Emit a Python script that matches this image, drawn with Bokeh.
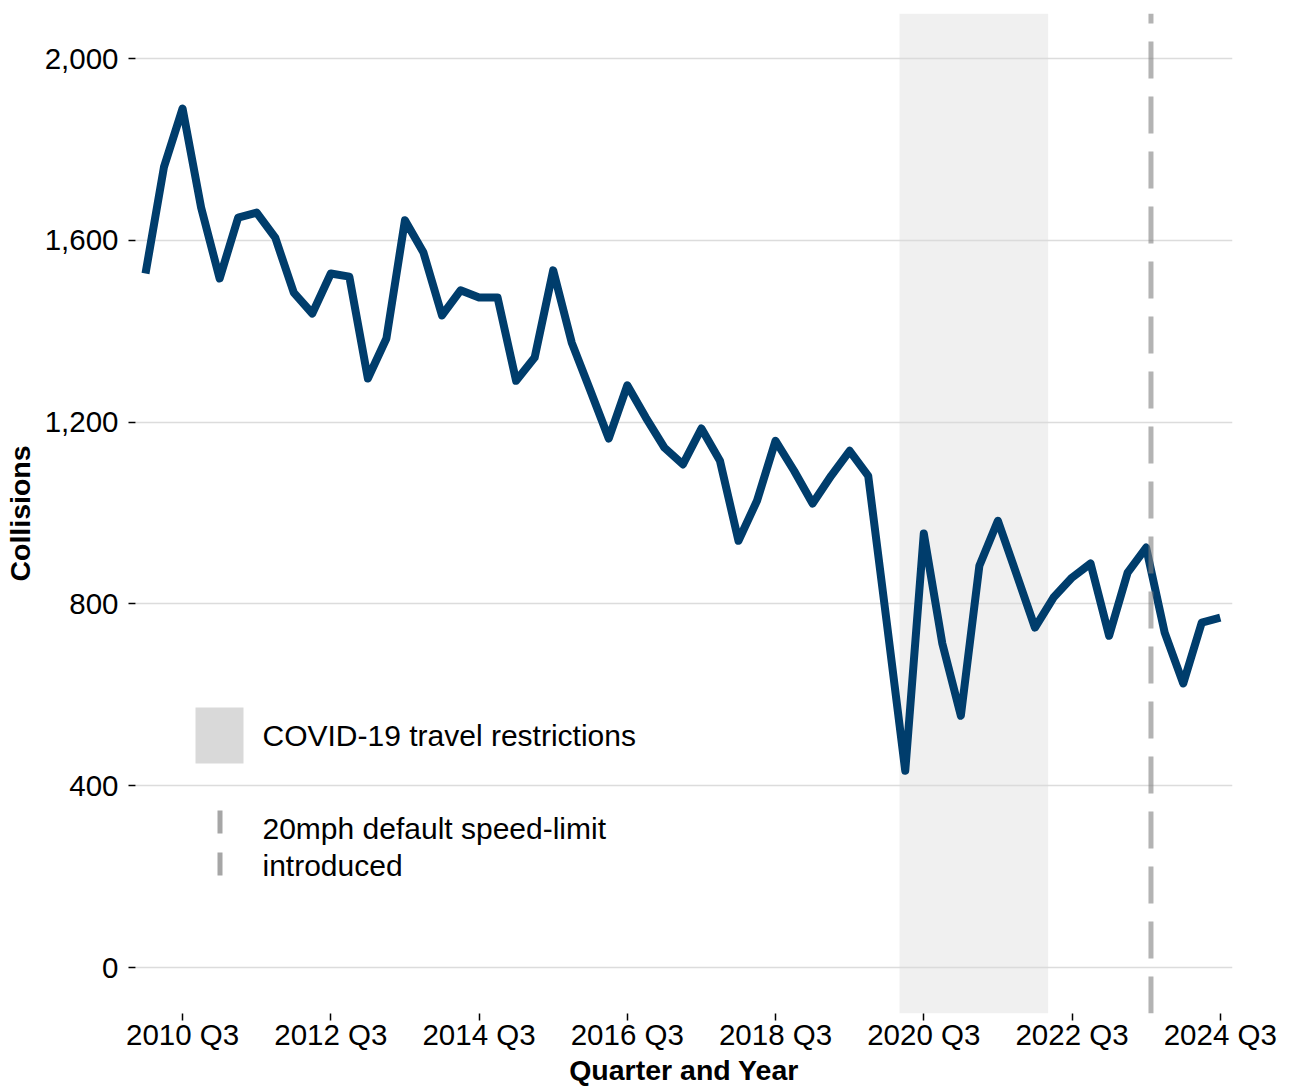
from bokeh.plotting import figure
from bokeh.models import Range1d, FixedTicker, NumeralTickFormatter, BoxAnnotation, Label
from bokeh.embed import file_html
from bokeh.resources import INLINE

# ---------------- data ----------------
years = list(range(2010, 2025))
quarters = [f"{y} Q{q}" for y in years for q in (1, 2, 3, 4)][:59]   # 2010 Q1 .. 2024 Q3

collisions = [
    1527, 1762, 1890, 1672, 1516, 1650, 1661, 1606, 1485, 1439,
    1527, 1520, 1296, 1384, 1644, 1573, 1435, 1490, 1474, 1474,
    1291, 1342, 1534, 1375, 1270, 1164, 1281, 1210, 1144, 1107,
    1186, 1115, 939, 1027, 1159, 1093, 1021, 1082, 1137, 1082,
    760, 433, 955, 713, 554, 884, 983, 866, 748, 814,
    858, 889, 730, 869, 924, 737, 625, 759, 770,
]

tick_quarters = ["2010 Q3", "2012 Q3", "2014 Q3", "2016 Q3",
                 "2018 Q3", "2020 Q3", "2022 Q3", "2024 Q3"]
y_ticks = [0, 400, 800, 1200, 1600, 2000]

# annotation positions on the quarter axis (quarter index units)
covid_start = 40.69
covid_end = 48.71
speed_limit_change = 54.26

covid_label = "COVID-19 travel restrictions"
speed_label_1 = "20mph default speed-limit"
speed_label_2 = "introduced"

x = list(range(len(quarters)))

# ---------------- figure ----------------
FONT = "Liberation Sans"

p = figure(
    frame_width=1097, frame_height=1000,
    x_range=Range1d(-0.54, 58.66), y_range=Range1d(-101, 2099),
    output_backend="svg", toolbar_location=None,
    min_border_left=135, min_border_right=53, min_border_top=13, min_border_bottom=65,
    background_fill_color="white", border_fill_color="white",
)
p.outline_line_color = None

# COVID shading
p.add_layout(BoxAnnotation(left=covid_start, right=covid_end,
                           fill_color="#d9d9d9", fill_alpha=0.4,
                           line_color=None, level="underlay"))

# main series
p.line(x, collisions, line_color="#003d6c", line_width=8,
       line_join="round", line_cap="butt")

# 20mph introduction dashed line (bottom -> top)
p.segment(x0=[speed_limit_change], y0=[p.y_range.start],
          x1=[speed_limit_change], y1=[p.y_range.end],
          line_color="#808080", line_alpha=0.6, line_width=5,
          line_dash="37 18")

# axes
tick_pos = [quarters.index(t) for t in tick_quarters]
p.xaxis.ticker = FixedTicker(ticks=tick_pos)
p.xaxis.major_label_overrides = {pos: lab for pos, lab in zip(tick_pos, tick_quarters)}
p.yaxis.ticker = FixedTicker(ticks=y_ticks)
p.yaxis.formatter = NumeralTickFormatter(format="0,0")

p.xaxis.axis_label = "Quarter and Year"
p.yaxis.axis_label = "Collisions"

for ax in (p.xaxis, p.yaxis):
    ax.axis_line_color = None
    ax.major_tick_in = 0
    ax.major_tick_out = 7
    ax.major_tick_line_color = "black"
    ax.major_tick_line_width = 1.5
    ax.minor_tick_line_color = None
    ax.major_label_text_font = FONT
    ax.major_label_text_font_size = "29.5px"
    ax.major_label_text_color = "black"
    ax.axis_label_text_font = FONT
    ax.axis_label_text_font_size = "28.5px"
    ax.axis_label_text_font_style = "bold"
    ax.axis_label_text_color = "black"

p.xaxis.major_label_standoff = -3
p.xaxis.axis_label_standoff = 0
p.yaxis.major_label_standoff = 10
p.yaxis.axis_label_standoff = 6

p.xgrid.visible = False
p.ygrid.grid_line_color = "#dcdcdc"
p.ygrid.grid_line_width = 1.5

# ---------------- legend (frame-relative screen units) ----------------
p.add_layout(BoxAnnotation(left=60, right=108, bottom=250, top=306,
                           left_units="screen", right_units="screen",
                           bottom_units="screen", top_units="screen",
                           fill_color="#d9d9d9", fill_alpha=1.0, line_color=None))
for b, t in ((180, 203), (138, 161)):
    p.add_layout(BoxAnnotation(left=82, right=87, bottom=b, top=t,
                               left_units="screen", right_units="screen",
                               bottom_units="screen", top_units="screen",
                               fill_color="#a6a6a6", fill_alpha=1.0, line_color=None))

for txt, yy in ((covid_label, 278), (speed_label_1, 185), (speed_label_2, 148)):
    p.add_layout(Label(x=127, y=yy, x_units="screen", y_units="screen", text=txt,
                       text_font=FONT, text_font_size="30px", text_color="black",
                       text_baseline="alphabetic", text_align="left"))

open("out.html", "w").write(file_html(p, INLINE))
